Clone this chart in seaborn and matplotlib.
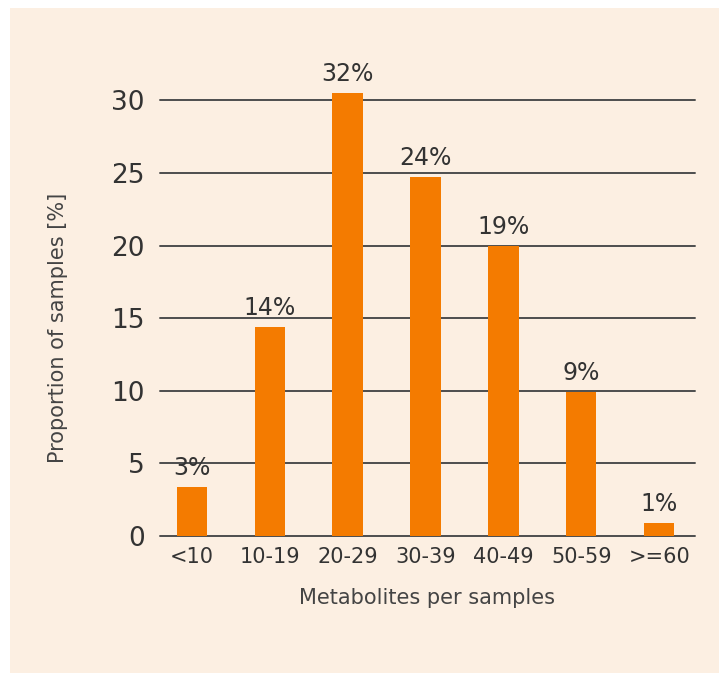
import matplotlib.pyplot as plt
import pandas as pd
import seaborn as sns
from matplotlib.patches import Rectangle

# Chart data
categories = ["<10", "10-19", "20-29", "30-39", "40-49", "50-59", ">=60"]
proportions = [3.4, 14.4, 30.5, 24.7, 20.0, 9.9, 0.9]
bar_labels = ["3%", "14%", "32%", "24%", "19%", "9%", "1%"]
y_ticks = [0, 5, 10, 15, 20, 25, 30]

df = pd.DataFrame({"group": categories, "value": proportions})

sns.set_theme(style="white")
plt.rcParams['font.family'] = ['DejaVu Sans']

W, H = 723, 675
fig = plt.figure(figsize=(W / 100, H / 100), dpi=100)
fig.patch.set_facecolor("white")

# Cream panel behind the chart
fig.patches.append(Rectangle((10 / W, 2 / H), 709 / W, 665 / H,
                             transform=fig.transFigure, facecolor="#fcefe2",
                             edgecolor="none", zorder=-10))

ax = fig.add_axes([160 / W, 1 - 536 / H, 535 / W, 464.7 / H])
ax.set_zorder(5)
ax.set_facecolor("none")

sns.barplot(data=df, x="group", y="value", color="#f47b00", width=0.39,
            saturation=1, linewidth=0, ax=ax, zorder=3)

# Value labels above bars
ax.bar_label(ax.containers[0], labels=bar_labels, padding=5,
             fontsize=17, color="#333333")

ax.set_ylim(0, 32)
ax.set_xlim(-0.41, 6.46)
ax.set_yticks(y_ticks)

# Horizontal gridlines only
ax.yaxis.grid(True, color="#4d4d4d", linewidth=1.4)
ax.xaxis.grid(False)
for gl in ax.get_ygridlines():
    gl.set_clip_on(False)
ax.set_axisbelow(True)
for s in ax.spines.values():
    s.set_visible(False)

ax.tick_params(axis="y", length=0, pad=11, labelsize=19, labelcolor="#333333")
ax.tick_params(axis="x", length=0, pad=8, labelsize=15, labelcolor="#333333")

ax.set_xlabel("Metabolites per samples", fontsize=15, color="#444444")
ax.set_ylabel("Proportion of samples [%]", fontsize=15, color="#444444")
ax.xaxis.set_label_coords(0.499, -0.112)
ax.yaxis.set_label_coords(-0.172, 0.448)

fig.savefig("out.png", dpi=100, facecolor=fig.get_facecolor())
